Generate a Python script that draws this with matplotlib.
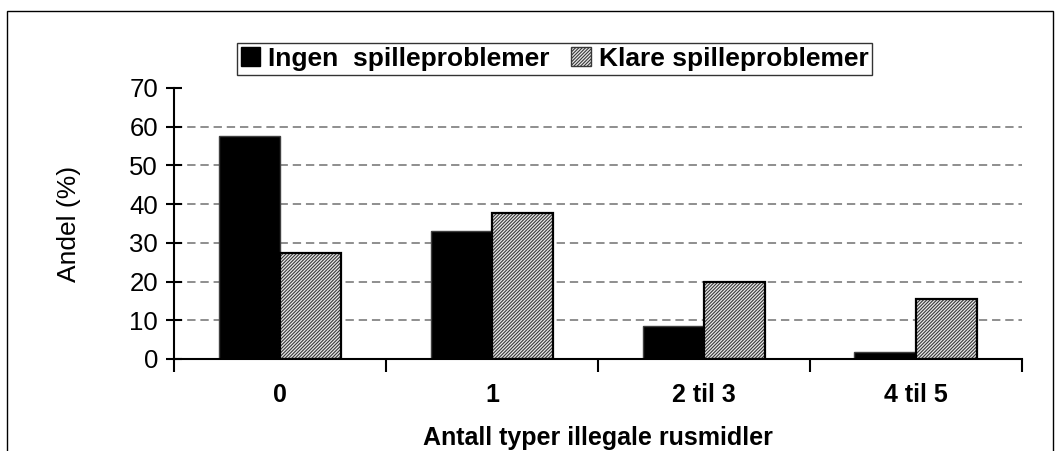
import numpy as np
import matplotlib
matplotlib.use('Agg')
import matplotlib.pyplot as plt
from matplotlib.patches import Rectangle, Patch

plt.rcParams['font.family'] = ['Liberation Sans', 'DejaVu Sans']
plt.rcParams['lines.scale_dashes'] = False
plt.rcParams['hatch.linewidth'] = 0.8

categories = ['0', '1', '2 til 3', '4 til 5']
ingen = [57.6, 33.0, 8.4, 1.9]
klare = [27.5, 37.6, 19.9, 15.5]
series_names = ['Ingen  spilleproblemer', 'Klare spilleproblemer']
yticks = [0, 10, 20, 30, 40, 50, 60, 70]

HATCH = '/' * 10
HATCH_COL = '#383838'

fig = plt.figure(figsize=(10.63, 4.51), dpi=100)
ax = fig.add_axes([0.1637, 0.204, 0.7977, 0.601])

x = np.arange(len(categories)) + 0.5
w = 0.29

# grid lines behind bars
for yv in yticks[1:-1]:
    ax.axhline(yv, color='#707070', lw=1.1, ls=(0, (6, 3.5)), zorder=0)

ax.bar(x - w / 2, ingen, w, color='black', edgecolor='#404040', lw=1.0, zorder=2)
ax.bar(x + w / 2, klare, w, color='#e8e8e8', edgecolor=HATCH_COL, hatch=HATCH,
       lw=0, zorder=2)
ax.bar(x + w / 2, klare, w, facecolor='none', edgecolor='black', lw=1.6, zorder=3)

ax.set_xlim(0, len(categories))
ax.set_ylim(0, 70)
ax.set_yticks(yticks)
ax.set_yticklabels([str(v) for v in yticks], fontsize=18.5)
ax.tick_params(axis='y', direction='inout', length=11, width=1.5, pad=6)

ax.set_xticks(np.arange(len(categories) + 1))
ax.set_xticklabels([])
ax.set_xticks(x, minor=True)
ax.set_xticklabels(categories, minor=True, fontsize=18, fontweight='bold')
ax.tick_params(axis='x', which='major', direction='out', length=9, width=1.5)
ax.tick_params(axis='x', which='minor', length=0, pad=17)

for s in ['top', 'right']:
    ax.spines[s].set_visible(False)
for s in ['left', 'bottom']:
    ax.spines[s].set_linewidth(1.5)

ax.set_ylabel('Andel (%)', fontsize=19, labelpad=35)
ax.set_xlabel('Antall typer illegale rusmidler', fontsize=18, fontweight='bold', labelpad=14)

handles = [Patch(facecolor='black', edgecolor='black'),
           Patch(facecolor='#e8e8e8', edgecolor=HATCH_COL, hatch=HATCH)]
leg = fig.legend(handles, series_names, loc='center', bbox_to_anchor=(0.5216, 0.870),
                 ncol=2, frameon=True, fancybox=False, edgecolor='black',
                 prop={'size': 19, 'weight': 'bold'}, handlelength=0.75, handleheight=0.75,
                 handletextpad=0.3, columnspacing=0.8, borderpad=0.15, borderaxespad=0)
leg.get_frame().set_linewidth(1.0)

fig.patches.append(Rectangle((0.0066, -0.1), 0.984, 1.0756, transform=fig.transFigure,
                             fill=False, edgecolor='black', lw=1.0))

fig.savefig('out.png', dpi=100)
